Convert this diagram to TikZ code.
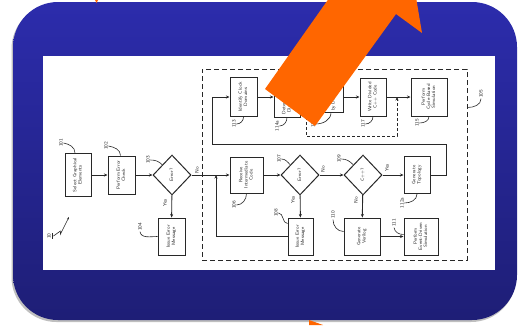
\documentclass[tikz,border=0pt]{standalone}
\usepackage{graphicx}
\usetikzlibrary{positioning, arrows.meta, shapes.geometric}

\definecolor{slideblue}{RGB}{44,44,172}
\definecolor{slidedeep}{RGB}{30,30,118}
\definecolor{arroworange}{RGB}{255,102,0}
\definecolor{ink}{RGB}{40,40,40}
\newcommand{\vtext}[1]{\rotatebox{90}{\begin{tabular}{@{}c@{}}#1\end{tabular}}}

\begin{document}
\begin{tikzpicture}[x=1pt, y=-1pt,
    box/.style = {draw=ink, line width=1pt, fill=white, inner sep=0pt, text=ink, font=\sffamily\fontsize{4.8}{5.2}\selectfont},
    dia/.style = {box, diamond, aspect=1, minimum width=38pt, minimum height=40pt},
    num/.style = {inner sep=0.5pt, text=ink, font=\sffamily\fontsize{5}{6}\selectfont},
    lead/.style = {draw=ink, line width=0.6pt},
    wire/.style = {draw=ink, line width=0.9pt},
    flow/.style = {wire, -{Stealth[length=3.5pt, width=3pt]}}]
    \useasboundingbox (0,0) rectangle (518,325);

    % 背景
    \fill[black, opacity=0.25, rounded corners=45pt] (11.5,4) rectangle (516,322);
    \shade[top color=slideblue, bottom color=slidedeep, rounded corners=45pt] (13,2) rectangle (517,320);
    \fill[white] (43,56) rectangle (495,270);
    \node[draw=ink, dashed, dash pattern=on 5pt off 3pt, line width=0.9pt, minimum width=265pt, minimum height=191pt] (g105) at (334.5,164.5) {};

    % 节点
    \node[box, minimum width=26pt, minimum height=43pt] (n101) at (78,175) {\vtext{Select Graphical\\Elements}};
    \node[box, minimum width=27pt, minimum height=38pt] (n102) at (121.5,175) {\vtext{Perform Error\\Check}};
    \node[dia] (n103) at (172,175) {\vtext{Error?}};
    \node[box, minimum width=27pt, minimum height=37pt] (n104) at (171.5,236.5) {\vtext{Issue Error\\Message}};
    \node[box, minimum width=33pt, minimum height=36pt] (n106) at (246.5,175) {\vtext{Receive\\Intermediate\\Code}};
    \node[dia] (n107) at (300,175) {\vtext{Error?}};
    \node[box, minimum width=25pt, minimum height=37pt] (n108) at (300.5,236.5) {\vtext{Issue Error\\Message}};
    \node[dia] (n109) at (363,175) {\vtext{C++?}};
    \node[box, minimum width=26pt, minimum height=37pt] (n112a) at (417,175) {\vtext{Generate\\Topology}};
    \node[box, minimum width=36pt, minimum height=37pt] (n110) at (362,236.5) {\vtext{Generate\\Verilog}};
    \node[box, minimum width=34pt, minimum height=37pt] (n111) at (421,236.5) {\vtext{Perform\\Event-Driven\\Simulation}};
    \node[box, minimum width=27pt, minimum height=39pt] (n113) at (243.5,97) {\vtext{Identify Clock\\Domains}};
    \node[box, minimum width=26pt, minimum height=27pt] (n114a) at (287,103.5) {\vtext{Determine\\Divisions}};
    \node[box, minimum width=24pt, minimum height=26pt] (n116) at (331,99) {\vtext{Divide\\by Domain}};
    \node[box, minimum width=26pt, minimum height=38pt] (n117) at (373,97) {\vtext{Write Divided\\C++ Code}};
    \node[box, minimum width=36pt, minimum height=38pt] (n115) at (429,97) {\vtext{Perform\\Cycle-Based\\Simulation}};

    % 编号
    \node[num] (l101) at (61,143) {\rotatebox{90}{101}};
    \node[num] (l102) at (106,146) {\rotatebox{90}{102}};
    \node[num] (l103) at (148,160) {\rotatebox{90}{103}};
    \node[num] (l104) at (140,227) {\rotatebox{90}{104}};
    \node[num] (l105) at (481,94) {\rotatebox{90}{105}};
    \node[num] (l106) at (234,205) {\rotatebox{90}{106}};
    \node[num] (l107) at (279,159) {\rotatebox{90}{107}};
    \node[num] (l108) at (276,213) {\rotatebox{90}{108}};
    \node[num] (l109) at (339,159) {\rotatebox{90}{109}};
    \node[num] (l110) at (333,215) {\rotatebox{90}{110}};
    \node[num] (l111) at (394,223) {\rotatebox{90}{111}};
    \node[num] (l112a) at (402,203) {\rotatebox{90}{112a}};
    \node[num] (l113) at (234,124) {\rotatebox{90}{113}};
    \node[num] (l114a) at (277,126) {\rotatebox{90}{114a}};
    \node[num] (l116) at (313,124) {\rotatebox{90}{116}};
    \node[num] (l117) at (363,124) {\rotatebox{90}{117}};
    \node[num] (l115) at (417,123) {\rotatebox{90}{115}};
    \node[num] (l10) at (50,236) {\rotatebox{90}{\underline{10}}};
    \node[num] (y103) at (165,203) {\rotatebox{90}{Yes}};
    \node[num] (o103) at (197,170) {\rotatebox{90}{No}};
    \node[num] (y107) at (293,200) {\rotatebox{90}{Yes}};
    \node[num] (o107) at (323,169) {\rotatebox{90}{No}};
    \node[num] (y109) at (387,168) {\rotatebox{90}{Yes}};
    \node[num] (o109) at (356,200) {\rotatebox{90}{No}};

    \coordinate (jL) at (216,175);
    \coordinate (t1) at (446,144);
    \coordinate (t2) at (212,144);
    \coordinate (j1) at (306,97);
    \coordinate (j2) at (397,97);
    \coordinate (p10) at (69,217);

    % 连线
    \draw[flow] (n101) -- (n102);
    \draw[flow] (n102) -- (n103);
    \draw[flow] (n103) -- (n104);
    \draw[flow] (n103) -- (n106);
    \draw[flow] (n108.west) -| (jL);
    \draw[flow] (n106) -- (n107);
    \draw[flow] (n107) -- (n108);
    \draw[flow] (n107) -- (n109);
    \draw[flow] (n109) -- (n112a);
    \draw[flow] (n109) -- (n110);
    \draw[flow] (n110.east) -- (n110.east -| n111.west);
    \draw[flow] (n112a.east) -| (t1) -- (t2) |- (n113.west);
    \draw[flow] (n113.east) -- (n113.east -| n114a.west);
    \draw[flow] (n114a.east |- j1) -- (j1 -| n116.west);
    \draw[flow] (n116.east |- j1) -- (n117.west);
    \draw[flow] (n117) -- (n115);
    \draw[wire, dashed, dash pattern=on 3pt off 2pt, -{Stealth[length=3.5pt, width=3pt]}] (j1) -- ++(0,39) -| (j2);

    % 引线
    \draw[lead] (l101.east) to[out=-10,in=90] ([xshift=-3pt]n101.north);
    \draw[lead] (l102.east) to[out=-10,in=90] ([xshift=-1pt]n102.north);
    \draw[lead] (l103.east) to[out=0,in=135] (n103.north west);
    \draw[lead] (l104.south) to[out=-80,in=180] (n104.west);
    \draw[lead] (l105.south) to[out=-90,in=0] ([yshift=57pt]g105.east);
    \draw[lead] (l106.east) to[out=0,in=-90] (n106.south);
    \draw[lead] (l107.east) to[out=0,in=135] (n107.north west);
    \draw[lead] (l108.east) to[out=0,in=180] ([yshift=-6pt]n108.north west);
    \draw[lead] (l109.east) to[out=0,in=135] (n109.north west);
    \draw[lead] (l110.south) to[out=-90,in=180] ([yshift=5pt]n110.west);
    \draw[lead] (l111.south) to[out=-80,in=180] ([yshift=2pt]n111.west);
    \draw[lead] (l112a.east) to[out=0,in=-90] (n112a.south);
    \draw[lead] (l113.east) to[out=0,in=-90] (n113.south);
    \draw[lead] (l114a.east) to[out=0,in=-90] (n114a.south);
    \draw[lead] (l116.east) to[out=0,in=-90] (n116.south);
    \draw[lead] (l117.east) to[out=0,in=-90] (n117.south);
    \draw[lead] (l115.east) to[out=0,in=-90] (n115.south);
    \draw[lead, -{Stealth[length=2.5pt, width=2pt]}] (l10.east) -- ++(7,-5) -- ++(0,3) -- (p10);

    % 箭头
    \begin{scope}
        \clip (0,0) rectangle (518,325);
        \fill[arroworange] (265,89) -- (315,126) -- (396,14) -- (422,33) -- (406.6,-58.7) -- (316,-42) -- (344,-23) -- cycle;
        \fill[arroworange] (309,320) -- (323,325) -- (309,325) -- cycle;
        \fill[arroworange] (95,0) -- (98,0) -- (96.5,3) -- cycle;
    \end{scope}
\end{tikzpicture}
\end{document}
